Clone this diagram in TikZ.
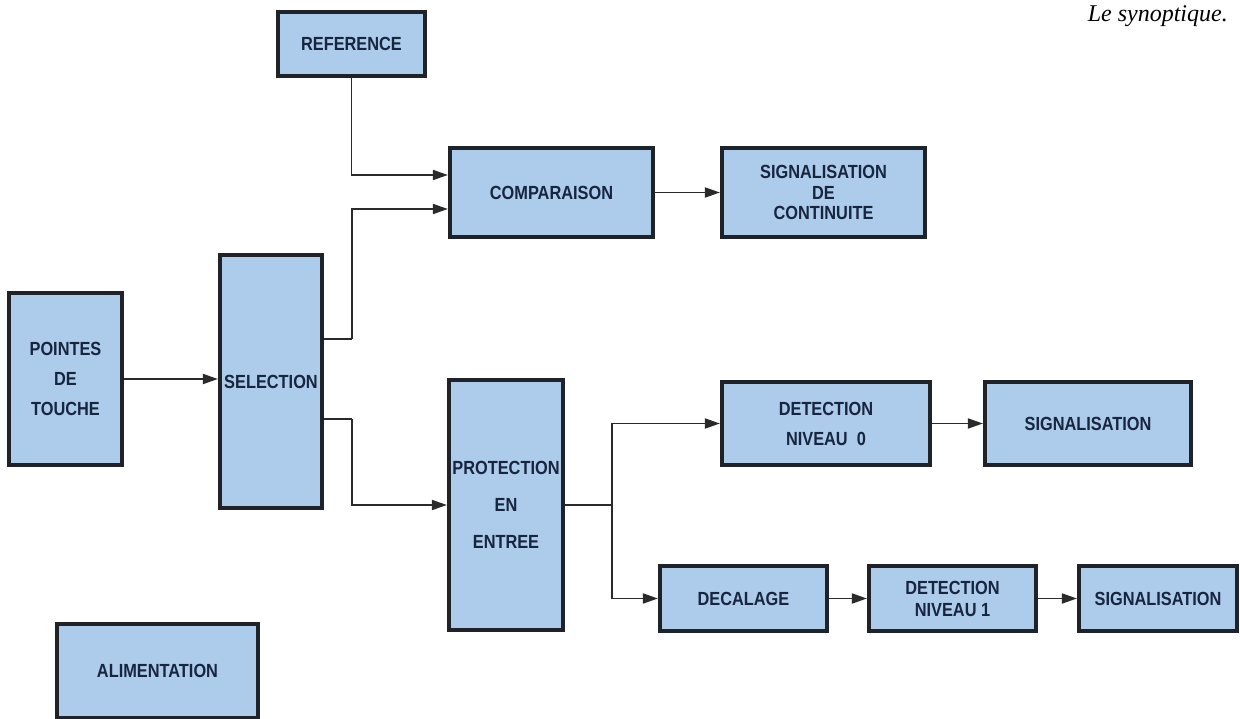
\documentclass[tikz,border=0pt]{standalone}
\usepackage{fontspec}
\usetikzlibrary{arrows.meta,calc}
\newfontfamily\boxfont[FakeStretch=0.86]{Liberation Sans}
\newfontfamily\capfont{Liberation Serif}
\definecolor{boxfill}{HTML}{ADCBEA}
\definecolor{boxline}{HTML}{1F2328}
\definecolor{boxtext}{HTML}{17253F}
\definecolor{conn}{HTML}{2A2A2A}
\tikzset{
  blk/.style={draw=boxline, fill=boxfill, line width=4.2pt, rectangle, inner sep=0pt,
    align=center, text=boxtext, font=\boxfont\bfseries\fontsize{19}{30}\selectfont},
  arr/.style={draw=conn, line width=1.8pt, -{Triangle[length=15pt,width=10pt]}},
  ln/.style={draw=conn, line width=1.8pt}
}
\begin{document}
\begin{tikzpicture}[x=1pt,y=-1pt]
\useasboundingbox[fill=white] (0,0) rectangle (1240,719);

\node[blk, minimum width=147pt, minimum height=64pt] (ref) at (351.5,44) {REFERENCE};
\node[blk, minimum width=203pt, minimum height=89pt] (comp) at (551.5,192.5) {COMPARAISON};
\node[blk, minimum width=203pt, minimum height=89pt, font=\boxfont\bfseries\fontsize{19}{20.5}\selectfont] (sigc) at (823.5,192.5) {SIGNALISATION\\DE\\CONTINUITE};
\node[blk, minimum width=113pt, minimum height=172pt] (pts) at (65.5,379) {POINTES\\DE\\TOUCHE};
\node[blk, minimum width=102pt, minimum height=253pt] (sel) at (271,381.5) {SELECTION};
\node[blk, minimum width=114pt, minimum height=250pt, font=\boxfont\bfseries\fontsize{19}{37}\selectfont] (prot) at (506,505) {PROTECTION\\EN\\ENTREE};
\node[blk, minimum width=208pt, minimum height=83pt] (det0) at (826,423.5) {DETECTION\\NIVEAU\ \ 0};
\node[blk, minimum width=206pt, minimum height=83pt] (sig1) at (1088,423.5) {SIGNALISATION};
\node[blk, minimum width=167pt, minimum height=65pt] (dec) at (743.5,598.5) {DECALAGE};
\node[blk, minimum width=167pt, minimum height=65pt, font=\boxfont\bfseries\fontsize{19}{22}\selectfont] (det1) at (952.5,598.5) {DETECTION\\NIVEAU 1};
\node[blk, minimum width=158pt, minimum height=65pt] (sig2) at (1158,598.5) {SIGNALISATION};
\node[blk, minimum width=201pt, minimum height=94pt] (alim) at (157.5,671) {ALIMENTATION};

\node[anchor=base east, font=\capfont\itshape\fontsize{24}{28}\selectfont, text=black, inner sep=0pt] (cap) at (1228,22) {Le synoptique.};

% connectors
\coordinate (s1) at (352,339);
\coordinate (s2) at (352,419);
\coordinate (pj) at (612,505);

\draw[arr] (ref.south) |- ($(comp.west)+(0,-17.5)$);
\draw[ln] (sel.east |- s1) -- (s1);
\draw[arr] (s1) |- ($(comp.west)+(0,16.5)$);
\draw[ln] (sel.east |- s2) -- (s2);
\draw[arr] (s2) |- (prot.west);
\draw[arr] (pts.east) -- (sel.west |- pts.east);
\draw[arr] (comp.east) -- (sigc.west);
\draw[ln] (prot.east) -- (pj);
\draw[arr] (pj) |- (det0.west);
\draw[arr] (pj) |- (dec.west);
\draw[arr] (det0.east) -- (sig1.west);
\draw[arr] (dec.east) -- (det1.west);
\draw[arr] (det1.east) -- (sig2.west);
\end{tikzpicture}
\end{document}
